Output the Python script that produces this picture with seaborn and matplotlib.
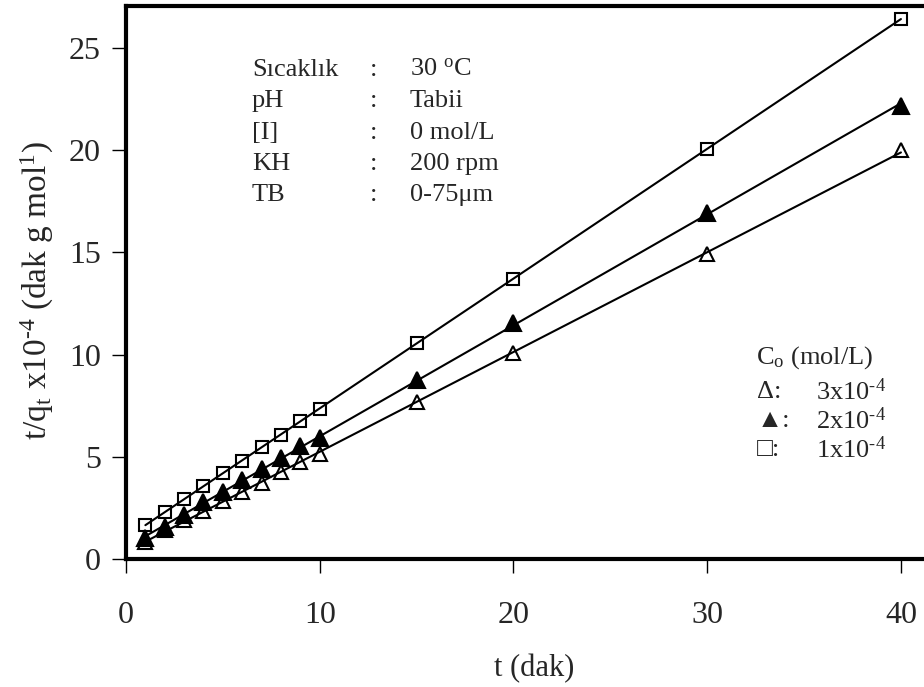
import numpy as np
import pandas as pd
import matplotlib
matplotlib.use("Agg")
import matplotlib.pyplot as plt
import seaborn as sns

t = [1, 2, 3, 4, 5, 6, 7, 8, 9, 10, 15, 20, 30, 40]
c1 = [1.66, 2.30, 2.93, 3.57, 4.20, 4.80, 5.48, 6.07, 6.75, 7.34, 10.57, 13.70, 20.06, 26.42]
c2 = [1.03, 1.57, 2.15, 2.79, 3.28, 3.86, 4.40, 4.94, 5.53, 5.92, 8.76, 11.55, 16.93, 22.16]
c3 = [0.83, 1.42, 1.91, 2.35, 2.84, 3.28, 3.72, 4.26, 4.75, 5.14, 7.68, 10.08, 14.92, 20.00]

xticks = [0, 10, 20, 30, 40]
yticks = [0, 5, 10, 15, 20, 25]

sns.set_style("ticks")
plt.rcParams['font.family'] = ['Liberation Serif', 'DejaVu Serif']
plt.rcParams['mathtext.fontset'] = 'custom'
plt.rcParams['mathtext.rm'] = 'Liberation Serif'
plt.rcParams['mathtext.it'] = 'Liberation Serif:italic'

fig = plt.figure(figsize=(9.24, 6.87), dpi=100)
ax = fig.add_axes([126/924, 1 - 559/687, 1 - 126/924, (559 - 6)/687])

df = pd.DataFrame({"t": t * 3, "y": c1 + c2 + c3,
                   "Co": ["1"] * len(t) + ["2"] * len(t) + ["3"] * len(t)})

series = [
    ("1", 's', 'none', 9),
    ("2", '^', 'black', 11),
    ("3", '^', 'none', 10),
]
for key, mk, fc, ms in series:
    sub = df[df["Co"] == key]
    sns.regplot(data=sub, x="t", y="y", ax=ax, ci=None, truncate=True, scatter=False,
                line_kws=dict(color='black', lw=1.5, zorder=2))
    ax.plot(sub["t"], sub["y"], linestyle='none', marker=mk, markersize=ms,
            markerfacecolor=fc, markeredgecolor='black', markeredgewidth=1.5, zorder=3)

ax.set_xlim(0, 41.19)
ax.set_ylim(0, 27.05)
ax.set_xticks(xticks)
ax.set_yticks(yticks)
ax.tick_params(axis='both', labelsize=23, direction='out', width=1, length=10, color='black')
ax.tick_params(axis='x', pad=20)
ax.tick_params(axis='y', pad=8)

for s in ['left', 'bottom', 'top']:
    ax.spines[s].set_linewidth(3)
    ax.spines[s].set_color('black')
ax.spines['right'].set_visible(False)

ax.set_xlabel('t (dak)', fontsize=22, va='center')
ax.xaxis.set_label_coords((534 - 126) / 798, -(669 - 559) / 553)
ax.set_ylabel(r't/q$_{\mathrm{t}}$ x10$^{\text{-4}}$ (dak g mol$^{\mathrm{1}}$)', fontsize=24, va='center')
ax.yaxis.set_label_coords(-(126 - 37) / 798, (559 - 290) / 553)

rows = [("Sıcaklık", "30 $^{\\mathrm{o}}$C"), ("pH", "Tabii"), ("[I]", "0 mol/L"),
        ("KH", "200 rpm"), ("TB", "0-75μm")]
for i, (lab, val) in enumerate(rows):
    y = 70 + i * 31.3
    fig.text(252/924, 1 - y/687, lab, fontsize=19, va='center', ha='left')
    fig.text(370/924, 1 - y/687, ":", fontsize=19, va='center', ha='left')
    fig.text(410/924, 1 - y/687, val, fontsize=19, va='center', ha='left')

fig.text(756/924, 1 - 358/687, r"C$_{\mathrm{o}}$ (mol/L)", fontsize=19, va='center', ha='left')
leg = [("Δ:", r"3x10$^{\text{-4}}$"), ("▲:", r"2x10$^{\text{-4}}$"), ("□:", r"1x10$^{\text{-4}}$")]
for i, (sym, val) in enumerate(leg):
    y = 392 + i * 29
    fig.text(757/924, 1 - y/687, sym, fontsize=19, va='center', ha='left',
             family=['Liberation Serif', 'DejaVu Sans'])
    fig.text(816/924, 1 - y/687, val, fontsize=19, va='center', ha='left')

fig.savefig("out.png", dpi=100)
